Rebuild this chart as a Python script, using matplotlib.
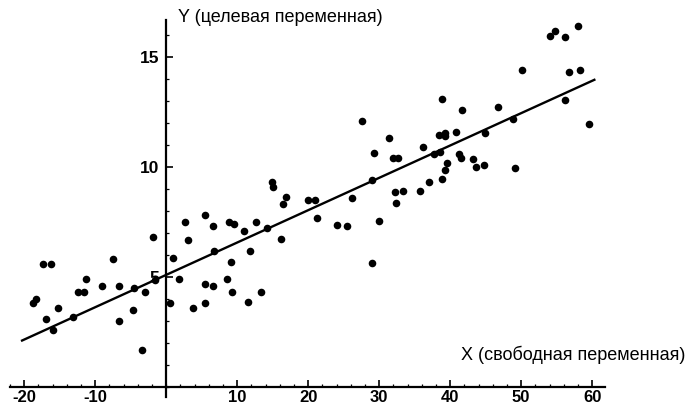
import matplotlib
matplotlib.use("Agg")
import matplotlib.pyplot as plt
from matplotlib.ticker import MultipleLocator, FixedLocator

plt.rcParams['font.family'] = ['Liberation Sans', 'DejaVu Sans']
plt.rcParams['axes.unicode_minus'] = False

x_vals = [-1.9, -17.3, -16.2, -7.5, -11.3, -12.4, -11.6, -9.0, -6.6, -4.5, -3.0,
          -18.4, -18.7, -15.2, -17.0, -13.1, -15.9, -4.7, -6.6, -3.4, -1.6,
          0.9, 1.8, 0.5, 2.6, 3.1, 5.5, 6.6, 6.7, 3.8, 5.4, 5.4, 6.6, 8.8, 9.6, 9.1,
          8.5, 9.3, 11.0, 11.8, 11.5, 12.6, 13.4, 14.2, 14.9, 15.0, 16.9, 16.5, 16.2,
          20.0, 21.0, 21.2, 24.0, 25.4,
          27.6, 31.4, 29.3, 32.0, 32.7, 29.0, 26.1, 29.9, 29.0, 32.2, 33.3, 32.3,
          35.8, 37.0, 38.9, 39.3, 39.5, 36.1, 37.7, 38.6, 38.4, 39.3, 39.2, 38.8,
          40.8, 41.6, 41.3, 41.5, 43.2, 43.6, 44.7, 44.9, 46.8, 48.9, 49.1, 50.1,
          54.0, 54.7, 56.2, 58.0, 56.7, 58.3, 56.1, 59.6]
y_vals = [6.8, 5.6, 5.6, 5.8, 4.9, 4.3, 4.3, 4.6, 4.6, 4.5, 4.3,
          4.0, 3.8, 3.6, 3.1, 3.2, 2.6, 3.5, 3.0, 1.7, 4.85,
          5.85, 4.9, 3.8, 7.5, 6.7, 7.8, 7.3, 6.2, 3.6, 3.8, 4.7, 4.6, 7.5, 7.4, 5.7,
          4.9, 4.3, 7.1, 6.2, 3.85, 7.5, 4.3, 7.25, 9.3, 9.1, 8.65, 8.3, 6.75,
          8.5, 8.5, 7.7, 7.35, 7.3,
          12.1, 11.3, 10.65, 10.4, 10.4, 9.4, 8.6, 7.55, 5.65, 8.85, 8.9, 8.35,
          8.9, 9.3, 9.45, 9.85, 10.2, 10.9, 10.6, 10.7, 11.45, 11.55, 11.4, 13.1,
          11.6, 12.6, 10.6, 10.4, 10.35, 10.0, 10.1, 11.55, 12.75, 12.2, 9.95, 14.4,
          15.95, 16.2, 15.9, 16.4, 14.3, 14.4, 13.05, 11.95]

fit_intercept = 5.1
fit_slope = 0.147
fit_x_range = [-20.3, 60.3]

x_ticks = [-20, -10, 10, 20, 30, 40, 50, 60]
y_ticks = [5, 10, 15]

x_label = "X (свободная переменная)"
y_label = "Y (целевая переменная)"

W, H = 687, 407
fig = plt.figure(figsize=(W / 100, H / 100), dpi=100)
ax = fig.add_axes([10 / W, (H - 397) / H, 595 / W, (397 - 19.6) / H])
ax.set_xlim(-22, 61.8)
ax.set_ylim(-0.45, 16.7)

ax.scatter(x_vals, y_vals, s=30, color='black', zorder=3, linewidths=0)
fit_y = [fit_intercept + fit_slope * xv for xv in fit_x_range]
ax.plot(fit_x_range, fit_y, color='black', lw=1.7, zorder=2)

for side in ['top', 'right']:
    ax.spines[side].set_visible(False)
ax.spines['left'].set_position(('data', 0))
ax.spines['bottom'].set_position(('data', 0))
ax.spines['left'].set_linewidth(1.6)
ax.spines['bottom'].set_linewidth(1.6)

ax.xaxis.set_major_locator(FixedLocator(x_ticks))
ax.yaxis.set_major_locator(FixedLocator(y_ticks))
ax.xaxis.set_minor_locator(MultipleLocator(2))
ax.yaxis.set_minor_locator(MultipleLocator(1))
ax.tick_params(axis='x', which='major', direction='in', length=5, width=1.2, pad=2)
ax.tick_params(axis='y', which='major', direction='in', length=5, width=1.2, pad=5)
ax.tick_params(which='minor', direction='in', length=2.5, width=0.9)
ax.set_xticklabels([str(t) for t in x_ticks], fontsize=12, fontweight='bold')
ax.set_yticklabels([str(t) for t in y_ticks], fontsize=12.5, fontweight='bold')

fig.text(178 / W, 1 - 18 / H, y_label, fontsize=13, ha='left', va='center')
fig.text(685 / W, 1 - 355 / H, x_label, fontsize=13, ha='right', va='center')

fig.savefig("out.png", dpi=100)
